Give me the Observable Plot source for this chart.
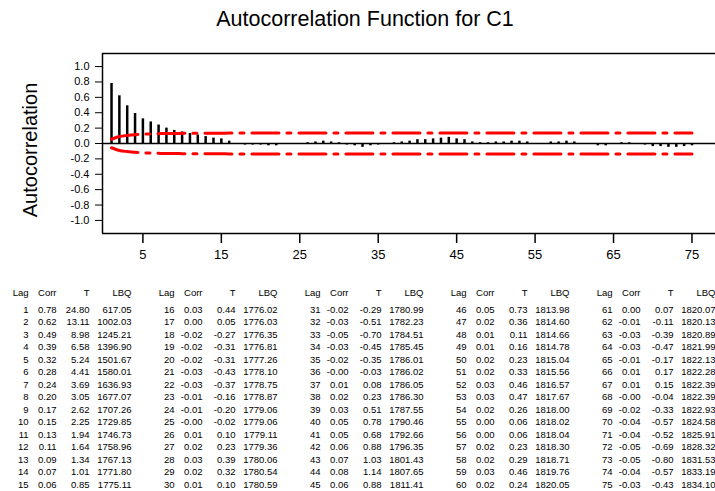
<!DOCTYPE html>
<html><head><meta charset="utf-8">
<script src="https://cdn.jsdelivr.net/npm/d3@7"></script>
<script src="https://cdn.jsdelivr.net/npm/@observablehq/plot@0.6"></script>
<style>
body{margin:0;background:#fff;font-family:Arial,"Liberation Sans",sans-serif;}
#wrap{position:relative;width:715px;height:491px;overflow:hidden;background:#fff;}
#title{position:absolute;left:365px;top:7px;transform:translateX(-50%);font-size:21.5px;white-space:nowrap;color:#000;}
#ylab{position:absolute;left:30px;top:150px;transform:translate(-50%,-50%) rotate(-90deg);font-size:20px;white-space:nowrap;color:#000;}
#chart{position:absolute;left:0;top:0;}
#table{position:absolute;left:0;top:270px;}
</style></head><body>
<div id="wrap"><div id="chart"></div><div id="table"></div><div id="title">Autocorrelation Function for C1</div><div id="ylab">Autocorrelation</div></div>
<script>
const lags = [1,2,3,4,5,6,7,8,9,10,11,12,13,14,15,16,17,18,19,20,21,22,23,24,25,26,27,28,29,30,31,32,33,34,35,36,37,38,39,40,41,42,43,44,45,46,47,48,49,50,51,52,53,54,55,56,57,58,59,60,61,62,63,64,65,66,67,68,69,70,71,72,73,74,75];
const corr = [0.78,0.62,0.49,0.39,0.32,0.28,0.24,0.20,0.17,0.15,0.13,0.11,0.09,0.07,0.06,
  0.03,0.00,-0.02,-0.02,-0.02,-0.03,-0.03,-0.01,-0.01,-0,0.01,0.02,0.03,0.02,0.01,
  -0.02,-0.03,-0.05,-0.03,-0.02,-0,0.01,0.02,0.03,0.05,0.05,0.06,0.07,0.08,0.06,
  0.05,0.02,0.01,0.01,0.02,0.02,0.03,0.03,0.02,0.00,0.00,0.02,0.02,0.03,0.02,
  0.00,-0.01,-0.03,-0.03,-0.01,0.01,0.01,-0,-0.02,-0.04,-0.04,-0.05,-0.05,-0.04,-0.03];
const tStat = [24.80,13.11,8.98,6.58,5.24,4.41,3.69,3.05,2.62,2.25,1.94,1.64,1.34,1.01,0.85,
  0.44,0.05,-0.27,-0.31,-0.31,-0.43,-0.37,-0.16,-0.20,-0.02,0.10,0.23,0.39,0.32,0.10,
  -0.29,-0.51,-0.70,-0.45,-0.35,-0.03,0.08,0.23,0.51,0.78,0.68,0.88,1.03,1.14,0.88,
  0.73,0.36,0.11,0.16,0.23,0.33,0.46,0.47,0.26,0.06,0.06,0.23,0.29,0.46,0.24,
  0.07,-0.11,-0.39,-0.47,-0.17,0.17,0.15,-0.04,-0.33,-0.57,-0.52,-0.69,-0.80,-0.57,-0.43];
const lbq = [617.05,1002.03,1245.21,1396.90,1501.67,1580.01,1636.93,1677.07,1707.26,1729.85,1746.73,1758.96,1767.13,1771.80,1775.11,
  1776.02,1776.03,1776.35,1776.81,1777.26,1778.10,1778.75,1778.87,1779.06,1779.06,1779.11,1779.36,1780.06,1780.54,1780.59,
  1780.99,1782.23,1784.51,1785.45,1786.01,1786.02,1786.05,1786.30,1787.55,1790.46,1792.66,1796.35,1801.43,1807.65,1811.41,
  1813.98,1814.60,1814.66,1814.78,1815.04,1815.56,1816.57,1817.67,1818.00,1818.02,1818.04,1818.30,1818.71,1819.76,1820.05,
  1820.07,1820.13,1820.89,1821.99,1822.13,1822.28,1822.39,1822.39,1822.93,1824.58,1825.91,1828.32,1831.53,1833.19,1834.10];
// significance limit (upper = +limit, lower = -limit)
const limit = [0.055,0.09,0.105,0.115,0.12,0.125,0.128,0.13,0.13,0.132,0.133,0.133,0.134,0.134,0.134,
  0.135,0.135,0.135,0.135,0.135,0.135,0.135,0.135,0.135,0.135,0.135,0.135,0.135,0.135,0.135,
  0.135,0.135,0.135,0.135,0.135,0.135,0.135,0.135,0.135,0.135,0.135,0.135,0.135,0.135,0.135,
  0.135,0.135,0.135,0.135,0.135,0.135,0.135,0.135,0.135,0.135,0.135,0.135,0.135,0.135,0.135,
  0.135,0.135,0.135,0.135,0.135,0.135,0.135,0.135,0.135,0.135,0.135,0.135,0.135,0.135,0.135];
const xTicks = [5,15,25,35,45,55,65,75];
const yTicks = [1.0,0.8,0.6,0.4,0.2,0.0,-0.2,-0.4,-0.6,-0.8,-1.0];
const headers = ["Lag","Corr","T","LBQ"];

const fmt2 = v => (v < 0 || Object.is(v, -0)) ? "-" + Math.abs(v).toFixed(2) : v.toFixed(2);
const rows = lags.map((lag, i) => ({lag, corr: corr[i], up: limit[i], lo: -limit[i]}));
const xDomain = [-0.15, 78];
const yDomain = [-1.17, 1.17];
const font = "Arial, 'Liberation Sans', sans-serif";

const chart = Plot.plot({
  width: 715, height: 270,
  marginTop: 53, marginBottom: 37, marginLeft: 102, marginRight: 0,
  style: {fontFamily: font, color: "#000", background: "transparent", overflow: "visible"},
  x: {domain: xDomain},
  y: {domain: yDomain},
  marks: [
    Plot.ruleY([0], {stroke: "#000", strokeWidth: 1.5}),
    Plot.ruleX(rows, {x: "lag", y1: 0, y2: "corr", stroke: "#000", strokeWidth: 2.5}),
    Plot.line(rows, {x: "lag", y: "up", stroke: "#ff0000", strokeWidth: 3, strokeDasharray: "27,8,4,8", curve: "monotone-x"}),
    Plot.line(rows, {x: "lag", y: "lo", stroke: "#ff0000", strokeWidth: 3, strokeDasharray: "27,8,4,8", curve: "monotone-x"}),
    Plot.ruleY([yDomain[0], yDomain[1]], {stroke: "#000", strokeWidth: 1.5}),
    Plot.ruleX([xDomain[0]], {stroke: "#000", strokeWidth: 1.5}),
    Plot.axisX({ticks: xTicks, tickSize: 10, tickPadding: 6, fontSize: 13, strokeWidth: 1.5, label: null}),
    Plot.axisY({ticks: yTicks, tickSize: 7, tickPadding: 6, fontSize: 11, tickFormat: d => d.toFixed(1), label: null})
  ]
});
document.getElementById("chart").appendChild(chart);

// table layout (right-aligned columns)
const groupStep = 146;
const colRight = [28, 56, 89, 131];
const headerRow = -1.36;
const cells = [];
lags.forEach((lag, i) => {
  const g = Math.floor(i / 15), r = i % 15;
  const vals = [String(lag), fmt2(corr[i]), fmt2(tStat[i]), lbq[i].toFixed(2)];
  vals.forEach((t, c) => cells.push({x: g * groupStep + colRight[c], row: r, text: t}));
});
for (let g = 0; g < 5; g++) headers.forEach((h, c) => cells.push({x: g * groupStep + colRight[c], row: headerRow, text: h}));

const table = Plot.plot({
  width: 715, height: 221, margin: 0,
  style: {fontFamily: font, color: "#000", background: "transparent", overflow: "visible"},
  x: {domain: [0, 715], range: [0, 715], axis: null},
  y: {domain: [0, 14], range: [39, 214], axis: null},
  marks: [
    Plot.text(cells, {x: "x", y: "row", text: "text", textAnchor: "end", fontSize: 9.5, fill: "#000"})
  ]
});
document.getElementById("table").appendChild(table);
</script>
</body></html>
